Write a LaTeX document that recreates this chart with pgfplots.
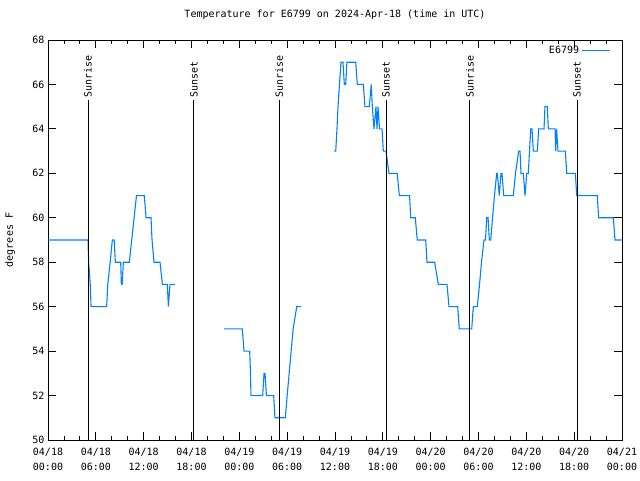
\documentclass[border=0pt]{standalone}
\usepackage{fontspec}
\setmainfont{DejaVu Sans Mono}
\usepackage{pgfplots}
\pgfplotsset{compat=1.18}
\definecolor{tline}{RGB}{0,128,255}

\begin{document}
\fontsize{10}{12}\selectfont
\begin{tikzpicture}[x=1pt,y=1pt]
\useasboundingbox (-48,-40) rectangle (592,440);
\begin{axis}[
    at={(0,0)}, anchor=south west,
    scale only axis, width=574pt, height=400pt,
    xmin=0, xmax=72, ymin=50, ymax=68,
    xtick={0,6,...,72}, minor x tick num=2,
    xticklabels={04/18\\00:00,04/18\\06:00,04/18\\12:00,04/18\\18:00,
                 04/19\\00:00,04/19\\06:00,04/19\\12:00,04/19\\18:00,
                 04/20\\00:00,04/20\\06:00,04/20\\12:00,04/20\\18:00,
                 04/21\\00:00},
    xticklabel style={align=center, font=\fontsize{10}{15}\selectfont, yshift=-5pt},
    ytick={50,52,...,68},
    /pgf/number format/assume math mode=true,
    tick align=inside,
    major tick length=8pt, minor tick length=4pt,
    every tick/.style={black, line width=0.8pt},
    axis line style={line width=0.8pt},
    title={Temperature for E6799 on 2024-Apr-18 (time in UTC)},
    title style={at={(0.5,1)}, anchor=base, yshift=16pt},
    ylabel={degrees F},
    ylabel style={at={(axis description cs:-0.066,0.5)}, anchor=center},
    legend style={at={(0.985,0.995)}, anchor=north east, draw=none, fill=none},
    legend plot pos=right,
    legend cell align=right,
    legend image code/.code={\draw[#1] (0pt,0pt) -- (28pt,0pt);},
  ]
\addplot[tline, line width=1.1pt] coordinates {
(0,59) (5.02,59) (5.1,58) (5.3,57) (5.4,56) (7.36,56) (7.5,57) (7.8,58)
(8.07,59) (8.3,59) (8.45,58) (9.12,58) (9.2,57) (9.3,57) (9.45,58) (10.2,58)
(10.5,59) (10.8,60) (11.1,61) (12.08,61) (12.3,60) (12.92,60) (13.05,59)
(13.3,58) (14.05,58) (14.35,57) (14.97,57) (15.1,56) (15.3,57) (15.93,57)
};
\addlegendentry{E6799}
\addplot[tline, line width=1.1pt, forget plot] coordinates {
(22.08,55) (24.37,55) (24.59,54) (25.3,54) (25.4,53) (25.46,52) (26.93,52)
(27.1,53) (27.22,53) (27.4,52) (28.31,52) (28.47,51) (29.77,51) (30.0,52)
(30.25,53) (30.5,54) (30.75,55) (31.2,56) (31.74,56)
};
\addplot[tline, line width=1.1pt, forget plot] coordinates {
(35.88,63) (36.09,63) (36.25,64) (36.38,65) (36.56,66) (36.75,67) (37.0,67)
(37.17,66) (37.34,66) (37.5,67) (38.6,67) (38.8,66) (39.55,66) (39.76,65)
(40.3,65) (40.55,66) (40.68,65) (40.89,64) (41.14,65) (41.27,64) (41.4,65)
(41.58,64) (41.9,64) (42.06,63) (42.4,63) (42.77,62) (43.8,62) (44.07,61)
(45.35,61) (45.5,60) (46.07,60) (46.32,59) (47.38,59) (47.54,58) (48.5,58)
(48.96,57) (50.05,57) (50.3,56) (51.39,56) (51.59,55) (53.15,55) (53.35,56)
(53.85,56) (54.13,57) (54.38,58) (54.69,59) (54.88,59) (55.03,60) (55.2,60)
(55.36,59) (55.54,59) (55.76,60) (56.01,61) (56.28,62) (56.36,62) (56.61,61)
(56.82,62) (56.95,62) (57.16,61) (58.37,61) (58.64,62) (59.04,63) (59.21,63)
(59.33,62) (59.62,62) (59.84,61) (60.05,62) (60.25,62) (60.55,64) (60.71,64)
(60.88,63) (61.38,63) (61.55,64) (62.22,64) (62.34,65) (62.63,65) (62.76,64)
(63.6,64) (63.68,63) (63.8,64) (63.97,63) (64.89,63) (65.07,62) (66.15,62)
(66.32,61) (68.9,61) (69.07,60) (70.91,60) (71.12,59) (72,59)
};
% sunrise / sunset markers
\addplot[black, line width=1pt, forget plot] coordinates {(5.02,50) (5.02,65.3)};
\addplot[black, line width=1pt, forget plot] coordinates {(18.31,50) (18.31,65.3)};
\addplot[black, line width=1pt, forget plot] coordinates {(28.98,50) (28.98,65.3)};
\addplot[black, line width=1pt, forget plot] coordinates {(42.4,50) (42.4,65.3)};
\addplot[black, line width=1pt, forget plot] coordinates {(52.93,50) (52.93,65.3)};
\addplot[black, line width=1pt, forget plot] coordinates {(66.36,50) (66.36,65.3)};
\node[rotate=90, anchor=west, inner sep=2pt] at (axis cs:5.02,65.3) {Sunrise};
\node[rotate=90, anchor=west, inner sep=2pt] at (axis cs:18.31,65.3) {Sunset};
\node[rotate=90, anchor=west, inner sep=2pt] at (axis cs:28.98,65.3) {Sunrise};
\node[rotate=90, anchor=west, inner sep=2pt] at (axis cs:42.4,65.3) {Sunset};
\node[rotate=90, anchor=west, inner sep=2pt] at (axis cs:52.93,65.3) {Sunrise};
\node[rotate=90, anchor=west, inner sep=2pt] at (axis cs:66.36,65.3) {Sunset};
\end{axis}
\end{tikzpicture}
\end{document}
